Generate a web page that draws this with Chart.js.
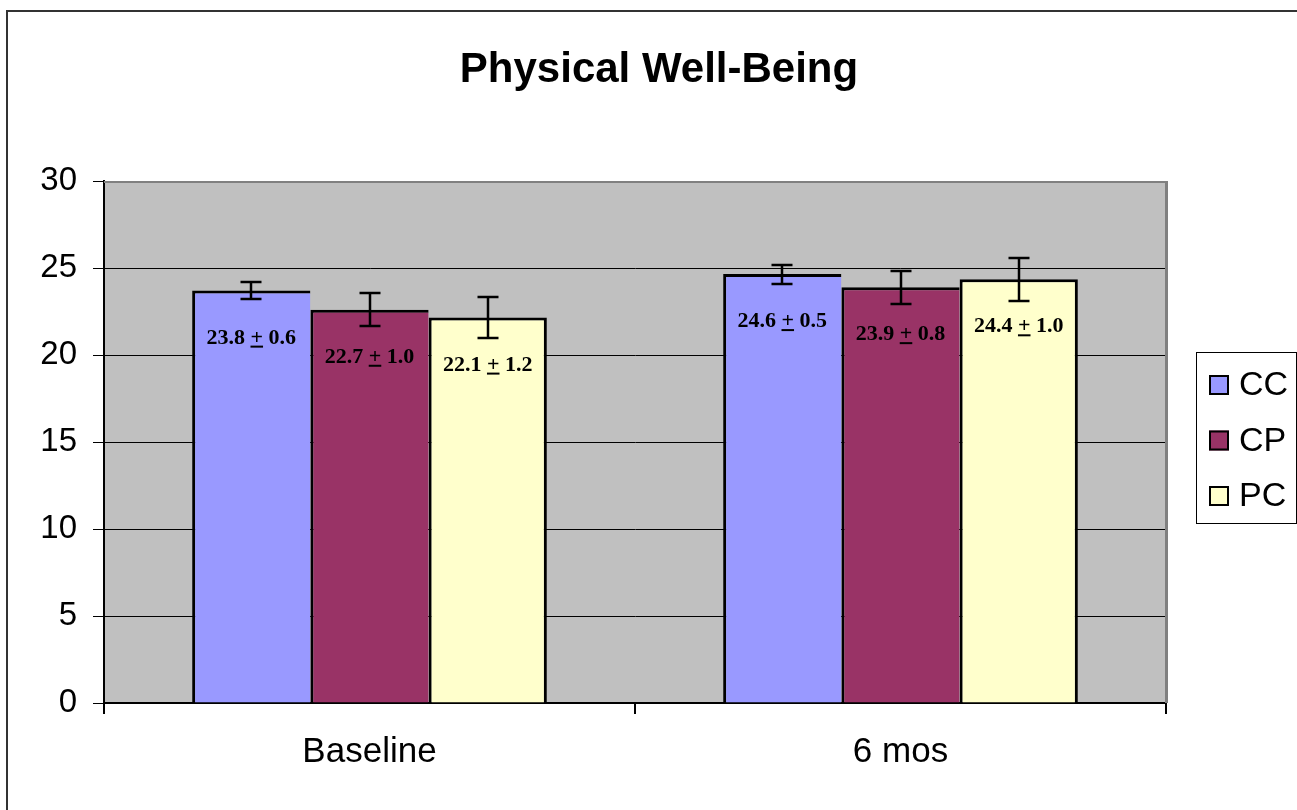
<!DOCTYPE html>
<html><head><meta charset="utf-8">
<script src="https://cdn.jsdelivr.net/npm/chart.js@4.4.0/dist/chart.umd.min.js"></script>
<style>html,body{margin:0;padding:0;background:#fff;}#wrap{width:1297px;height:810px;position:relative;}</style>
</head><body><div id="wrap"><canvas id="c" width="1297" height="810"></canvas></div>
<script>
const chartTitle = 'Physical Well-Being';
const categories = ['Baseline', '6 mos'];
const seriesNames = ['CC', 'CP', 'PC'];
const ccValues = [23.7, 24.65];
const cpValues = [22.6, 23.9];
const pcValues = [22.15, 24.35];
const ccErrors = [0.5, 0.55];
const cpErrors = [0.95, 0.95];
const pcErrors = [1.2, 1.25];
const ccMeanText = ['23.8', '24.6'];
const ccSdText = ['0.6', '0.5'];
const cpMeanText = ['22.7', '23.9'];
const cpSdText = ['1.0', '0.8'];
const pcMeanText = ['22.1', '24.4'];
const pcSdText = ['1.2', '1.0'];
const yTicks = [0, 5, 10, 15, 20, 25, 30];
const seriesColors = ['#9999FF', '#993366', '#FFFFCC'];

const allErrors = [ccErrors, cpErrors, pcErrors];
const allMeans = [ccMeanText, cpMeanText, pcMeanText];
const allSds = [ccSdText, cpSdText, pcSdText];

const SANS = '"Liberation Sans", Arial, sans-serif';
const SERIF = '"Liberation Serif", "Times New Roman", serif';

const deco = {
  id: 'deco',
  beforeDraw(chart) {
    const ctx = chart.ctx, a = chart.chartArea;
    ctx.save();
    ctx.strokeStyle = '#333';
    ctx.lineWidth = 2;
    ctx.beginPath();
    ctx.moveTo(7, 812); ctx.lineTo(7, 11); ctx.lineTo(1300, 11);
    ctx.stroke();
    ctx.fillStyle = '#C0C0C0';
    ctx.fillRect(a.left, a.top, a.right - a.left, a.bottom - a.top);
    ctx.restore();
  },
  afterDatasetsDraw(chart) {
    const ctx = chart.ctx, a = chart.chartArea;
    const ys = chart.scales.y;
    ctx.save();
    ctx.strokeStyle = '#000';
    ctx.lineWidth = 2.5;
    chart.data.datasets.forEach((ds, i) => {
      const meta = chart.getDatasetMeta(i);
      meta.data.forEach((bar, j) => {
        const v = ds.data[j], e = allErrors[i][j];
        const yt = Math.round(ys.getPixelForValue(v + e));
        const yb = Math.round(ys.getPixelForValue(v - e));
        const x = Math.round(bar.x);
        ctx.beginPath();
        ctx.moveTo(x, yt); ctx.lineTo(x, yb);
        ctx.moveTo(x - 10.5, yt); ctx.lineTo(x + 10.5, yt);
        ctx.moveTo(x - 10.5, yb); ctx.lineTo(x + 10.5, yb);
        ctx.stroke();
      });
    });
    ctx.fillStyle = '#000';
    ctx.font = 'bold 22px ' + SERIF;
    ctx.textBaseline = 'alphabetic';
    ctx.textAlign = 'left';
    chart.data.datasets.forEach((ds, i) => {
      const meta = chart.getDatasetMeta(i);
      meta.data.forEach((bar, j) => {
        const sa = allMeans[i][j] + ' ', sp = '+', sb = ' ' + allSds[i][j];
        const wa = ctx.measureText(sa).width, wp = ctx.measureText(sp).width, wb = ctx.measureText(sb).width;
        const x0 = bar.x - (wa + wp + wb) / 2;
        const y = bar.y + 53;
        ctx.fillText(sa, x0, y);
        ctx.fillText(sp, x0 + wa, y);
        ctx.fillText(sb, x0 + wa + wp, y);
        ctx.fillRect(x0 + wa, y + 2, wp, 2);
      });
    });
    ctx.strokeStyle = '#808080';
    ctx.lineWidth = 2;
    ctx.beginPath();
    ctx.moveTo(a.left, a.top + 1); ctx.lineTo(a.right, a.top + 1);
    ctx.stroke();
    ctx.lineWidth = 3;
    ctx.beginPath();
    ctx.moveTo(a.right + 0.5, a.top); ctx.lineTo(a.right + 0.5, a.bottom);
    ctx.stroke();
    ctx.restore();
  },
  afterDraw(chart) {
    const ctx = chart.ctx;
    ctx.save();
    ctx.fillStyle = '#000';
    ctx.font = 'bold 42px ' + SANS;
    ctx.textAlign = 'center';
    ctx.textBaseline = 'alphabetic';
    ctx.fillText(chartTitle, 659, 82);
    ctx.strokeStyle = '#000';
    ctx.lineWidth = 1;
    ctx.strokeRect(1196.5, 352.5, 100, 171);
    ctx.font = '34px ' + SANS;
    ctx.textAlign = 'left';
    ctx.textBaseline = 'middle';
    chart.data.datasets.forEach((ds, i) => {
      const cy = 385 + i * 55.5;
      ctx.fillStyle = ds.backgroundColor;
      ctx.fillRect(1209, cy - 10, 20, 20);
      ctx.lineWidth = 2;
      ctx.strokeRect(1210, cy - 9, 18, 18);
      ctx.fillStyle = '#000';
      ctx.fillText(ds.label, 1239, cy + 1);
    });
    ctx.restore();
  }
};

const values = [ccValues, cpValues, pcValues];
new Chart(document.getElementById('c'), {
  type: 'bar',
  data: {
    labels: categories,
    datasets: seriesNames.map((n, i) => ({
      label: n,
      data: values[i],
      backgroundColor: seriesColors[i],
      borderColor: '#000',
      borderWidth: {top: 3, left: 3, bottom: 0, right: i === 2 ? 3 : 0},
      borderSkipped: false,
      categoryPercentage: 0.668,
      barPercentage: 1.0
    }))
  },
  options: {
    responsive: false,
    animation: false,
    devicePixelRatio: 1,
    layout: {padding: {top: 181, right: 131, left: 0, bottom: 0}},
    plugins: {legend: {display: false}, title: {display: false}, tooltip: {enabled: false}},
    scales: {
      x: {
        offset: true,
        grid: {offset: true, drawOnChartArea: false, drawTicks: true, tickLength: 11, color: '#000', lineWidth: 2},
        border: {display: true, color: '#000', width: 2},
        ticks: {font: {family: SANS, size: 35}, color: '#000', padding: 17},
        afterFit(s) { s.height = 107; }
      },
      y: {
        min: 0, max: 30,
        afterBuildTicks(s) { s.ticks = yTicks.map(v => ({value: v})); },
        grid: {color: '#000', lineWidth: 1, tickLength: 11, drawTicks: true},
        border: {display: true, color: '#000', width: 2},
        ticks: {font: {family: SANS, size: 33}, color: '#000', padding: 16},
        afterFit(s) { s.width = 104; }
      }
    }
  },
  plugins: [deco]
});
</script></body></html>
